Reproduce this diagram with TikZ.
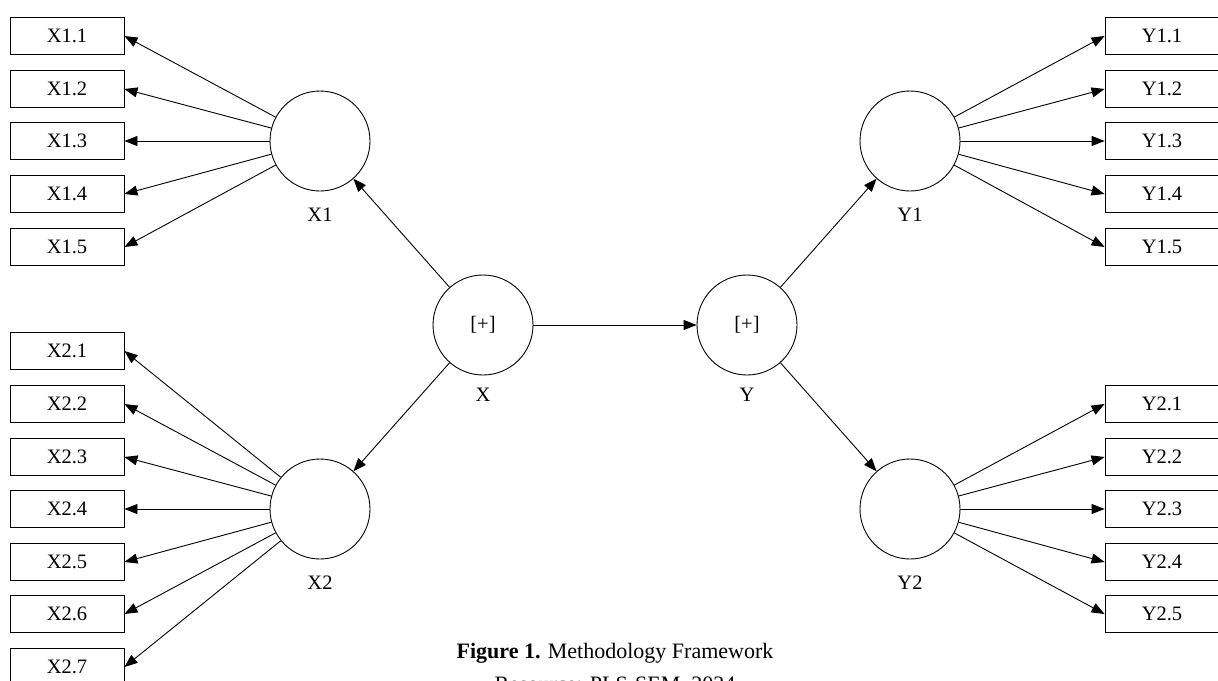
\documentclass[tikz,border=0pt]{standalone}
\usepackage{fontspec}
\setmainfont{Liberation Serif}
\usetikzlibrary{arrows.meta}

\begin{document}
\begin{tikzpicture}[x=1pt, y=-1pt, line width=0.9pt,
	ind/.style={draw, minimum width=114pt, minimum height=37pt, inner sep=0pt},
	lat/.style={draw, circle, minimum size=100pt, inner sep=0pt},
	arr/.style={-{Triangle[length=13pt,width=10pt]}},
	font=\fontsize{20.5}{24}\selectfont]
	\useasboundingbox (0,0) rectangle (1218,680);

	%latent variables
	\node[lat] (X) at (483,325) {[+]};
	\node[lat] (Y) at (747,325) {[+]};
	\node[lat] (X1) at (320,141) {};
	\node[lat] (X2) at (320,509) {};
	\node[lat] (Y1) at (910,141) {};
	\node[lat] (Y2) at (910,509) {};

	%labels under the circles
	\node (lX) at (483,395) {X};
	\node (lY) at (747,395) {Y};
	\node (lX1) at (320,215) {X1};
	\node (lX2) at (320,583) {X2};
	\node (lY1) at (910,215) {Y1};
	\node (lY2) at (910,583) {Y2};

	%structural paths
	\draw[arr] (X) -- (Y);
	\draw[arr] (X) -- (X1);
	\draw[arr] (X) -- (X2);
	\draw[arr] (Y) -- (Y1);
	\draw[arr] (Y) -- (Y2);

	%indicators
	\foreach \i / \y in {1/36,2/89,3/141,4/194,5/247}{
	\node[ind] (ix1\i) at (67,\y) {X1.\i};
	\draw[arr] (X1) -- (ix1\i.east);
	\node[ind] (iy1\i) at (1162,\y) {Y1.\i};
	\draw[arr] (Y1) -- (iy1\i.west);}

	\foreach \i / \y in {1/351,2/404,3/457,4/509,5/562,6/614,7/667}{
	\node[ind] (ix2\i) at (67,\y) {X2.\i};
	\draw[arr] (X2) -- (ix2\i.east);}

	\foreach \i / \y in {1/404,2/457,3/509,4/562,5/614}{
	\node[ind] (iy2\i) at (1162,\y) {Y2.\i};
	\draw[arr] (Y2) -- (iy2\i.west);}

	%caption
	\node[anchor=base, font=\fontsize{22}{26}\selectfont] (cap) at (615,658) {\textbf{Figure 1.} Methodology Framework};
	\node[anchor=base, font=\fontsize{22}{26}\selectfont] (src) at (615,691) {Resource: PLS-SEM, 2024};

\end{tikzpicture}
\end{document}
